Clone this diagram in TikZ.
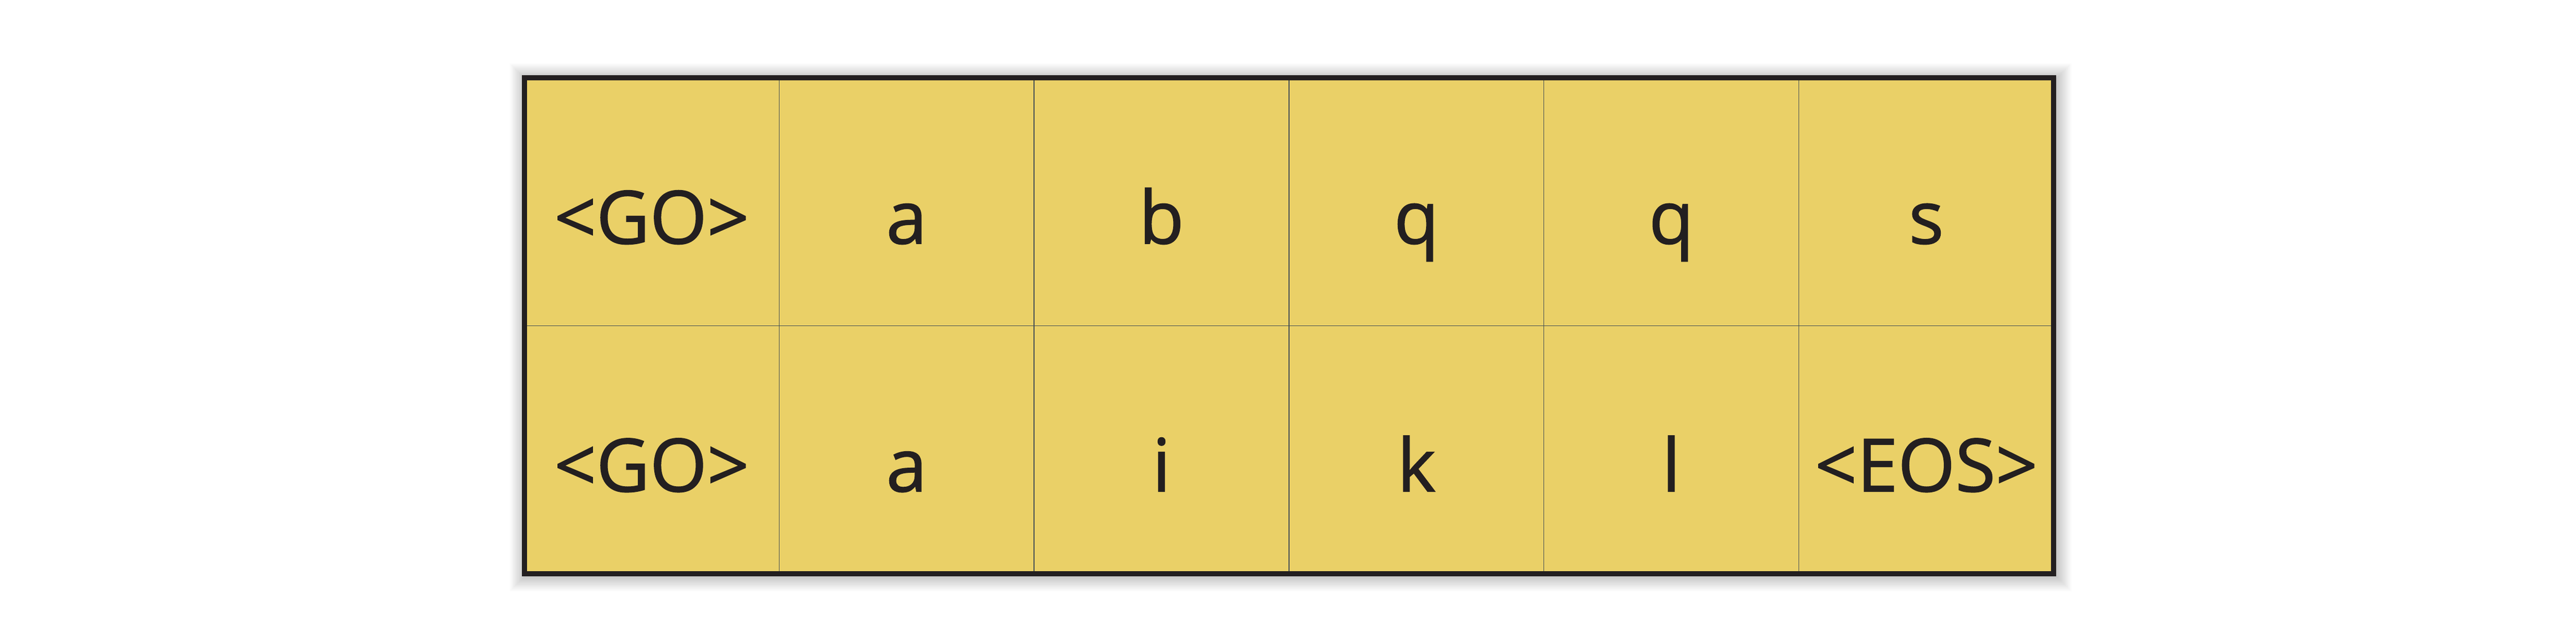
\documentclass[tikz,border=0pt]{standalone}
\usepackage{fontspec}
\setmainfont{Open Sans}
\newfontfamily\cellfont[FakeBold=1.2]{Open Sans}
\usetikzlibrary{calc}
\definecolor{cellfill}{HTML}{EAD067}
\definecolor{gridcol}{HTML}{3E4A54}
\definecolor{framecol}{HTML}{231F20}
\tikzset{
  cell/.style={draw=gridcol, line width=0.025cm, fill=cellfill, inner sep=0pt, outer sep=0pt,
    minimum width=7.9167cm, minimum height=7.7cm, text height=2.6cm, text depth=0cm,
    text=framecol, font=\cellfont\fontsize{65}{78}\selectfont},
  frame/.style={draw=framecol, line width=0.16cm}
}
\begin{document}
\begin{tikzpicture}
\useasboundingbox[fill=white] (0,0) rectangle (80,19.69);
% soft shadow
\foreach \k in {1,...,20}{
  \fill[black, opacity=0.012] ($(16.28,1.87)+(0.05,-0.05)+(-0.025*\k,-0.025*\k)$) rectangle ($(63.78,17.27)+(0.05,-0.05)+(0.025*\k,0.025*\k)$);
}
% cells
\foreach \t [count=\i] in {{<GO>},a,b,q,q,s}{
  \node[cell] (t\i) at ({16.28+7.9167*(\i-0.5)},13.42) {\t};
}
\foreach \t [count=\i] in {{<GO>},a,i,k,l,{<EOS>}}{
  \node[cell] (b\i) at ({16.28+7.9167*(\i-0.5)},5.72) {\t};
}
\draw[frame] (t1.north west) rectangle (b6.south east);
\end{tikzpicture}
\end{document}
